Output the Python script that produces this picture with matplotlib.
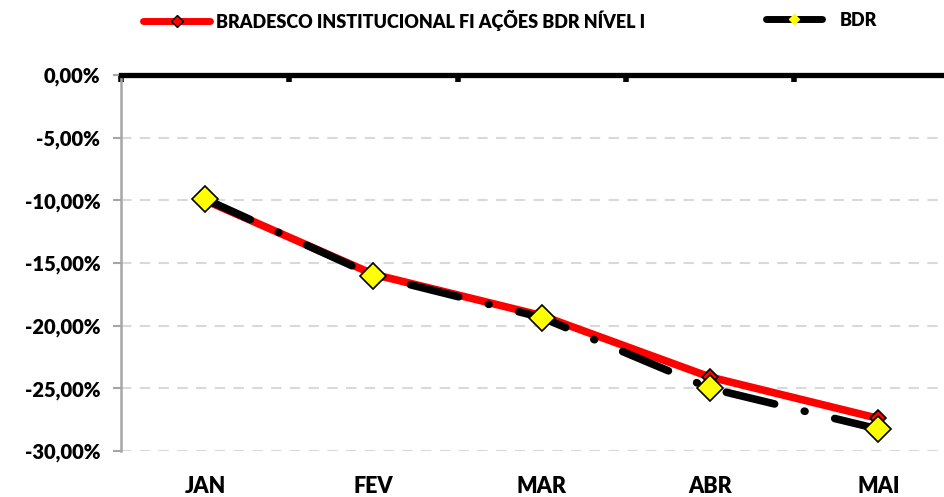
import matplotlib.pyplot as plt
from matplotlib.ticker import FuncFormatter

months = ["JAN", "FEV", "MAR", "ABR", "MAI"]
fundo = [-10.0, -15.9, -19.2, -24.1, -27.4]
bdr = [-9.9, -16.0, -19.35, -25.0, -28.25]
fundo_label = "BRADESCO INSTITUCIONAL FI AÇÕES BDR NÍVEL I"
bdr_label = "BDR"

plt.rcParams['font.family'] = ['Lato', 'DejaVu Sans']
plt.rcParams['font.weight'] = 'heavy'

fig = plt.figure(figsize=(9.45, 4.97), dpi=100)
# axes run past the right edge, like the cropped original
ax = fig.add_axes([121 / 945, 46 / 497, 841.5 / 945, 376 / 497])

x = list(range(len(months)))
ax.plot(x, fundo, color="#ff0000", lw=5.5, solid_capstyle="round", zorder=2)
ax.plot(x, bdr, color="black", lw=5.5, dashes=(6.5, 4, 0.1, 4),
        dash_capstyle="round", zorder=3)
ax.plot(x, fundo, ls="none", marker="D", ms=8, mfc="#ff0000", mec="black",
        mew=1.2, zorder=4)
ax.plot(x, bdr, ls="none", marker="D", ms=13, mfc="#ffff00", mec="black",
        mew=1.2, zorder=5)

ax.set_xlim(-0.5, 4.5)
ax.set_ylim(-30, 0)
ax.set_yticks(range(-30, 1, 5))
ax.yaxis.set_major_formatter(FuncFormatter(lambda v, p: f"{v:.2f}%".replace(".", ",")))
ax.yaxis.grid(True, color="#d9d9d9", lw=1.5, ls=(0, (5, 4)))
ax.set_axisbelow(True)

ax.set_xticks(x)
ax.set_xticklabels(months)
ax.tick_params(axis="x", which="major", length=0, pad=18, labelsize=15.5)
ax.set_xticks([i - 0.5 for i in range(len(months) + 1)], minor=True)
ax.tick_params(axis="x", which="minor", top=True, bottom=False, direction="in",
               length=5, width=4, color="black")
ax.tick_params(axis="y", length=6, width=1.5, color="#a6a6a6", labelsize=14.5, pad=9)

ax.spines["bottom"].set_visible(False)
ax.spines["right"].set_visible(False)
ax.spines["left"].set_color("#a6a6a6")
ax.spines["left"].set_linewidth(1.8)
ax.spines["top"].set_color("black")
ax.spines["top"].set_linewidth(3.8)
ax.spines["top"].set_zorder(6)

# legend along the top
l1, = plt.plot([], [], color="#ff0000", lw=5, solid_capstyle="round",
               marker="D", ms=6, mfc="#ff0000", mec="black")
l2, = plt.plot([], [], color="black", lw=5, solid_capstyle="round",
               marker="D", ms=5, mfc="#ffff00", mec="#ffff00")
fig.legend([l1], [fundo_label], loc="center left", bbox_to_anchor=(143.5 / 945, 1 - 20 / 497),
           frameon=False, fontsize=13, handlelength=3.7, handletextpad=0.3,
           borderpad=0, borderaxespad=0)
fig.legend([l2], [bdr_label], loc="center left", bbox_to_anchor=(766 / 945, 1 - 20 / 497),
           frameon=False, fontsize=13, handlelength=3.1, handletextpad=1.0,
           borderpad=0, borderaxespad=0)

plt.savefig("out.png", dpi=100)
